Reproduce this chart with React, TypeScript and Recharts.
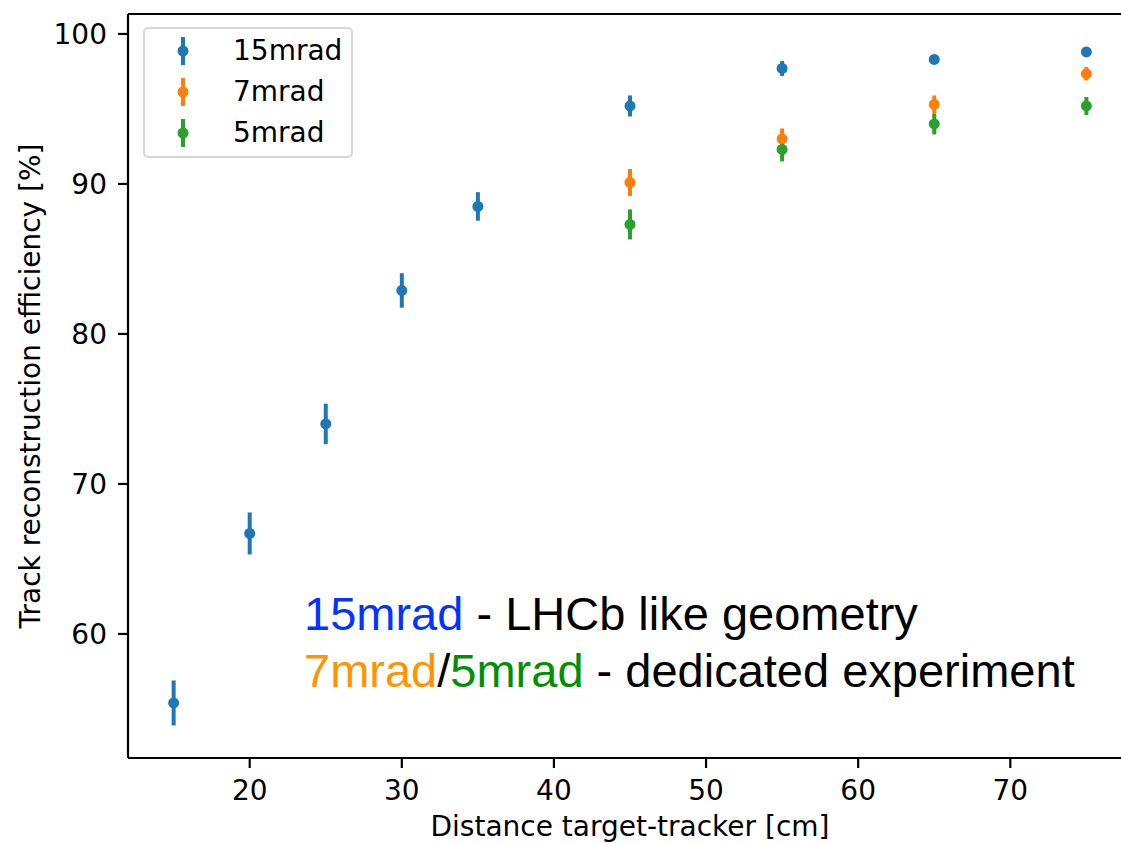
import { ScatterChart, Scatter, XAxis, YAxis, ErrorBar, Legend, ReferenceLine } from 'recharts';

const DIST_15 = [15, 20, 25, 30, 35, 45, 55, 65, 75];
const EFF_15 = [55.4, 66.7, 74.0, 82.9, 88.5, 95.2, 97.7, 98.3, 98.8];
const ERR_15 = [1.5, 1.4, 1.35, 1.15, 0.95, 0.7, 0.5, 0.3, 0.2];

const DIST_7 = [45, 55, 65, 75];
const EFF_7 = [90.1, 93.0, 95.3, 97.35];
const ERR_7 = [0.9, 0.7, 0.6, 0.45];

const DIST_5 = [45, 55, 65, 75];
const EFF_5 = [87.3, 92.3, 94.0, 95.2];
const ERR_5 = [1.0, 0.8, 0.7, 0.6];

const X_TICKS = [20, 30, 40, 50, 60, 70];
const Y_TICKS = [60, 70, 80, 90, 100];
const X_DOMAIN = [12, 78];
const Y_DOMAIN = [51.73, 101.33];

const toPoints = (xs: number[], ys: number[], errs: number[]) =>
  xs.map((x, i) => ({ x, y: ys[i], err: errs[i] }));

const series = [
  { name: '15mrad', color: '#1f77b4', data: toPoints(DIST_15, EFF_15, ERR_15) },
  { name: '7mrad', color: '#ff7f0e', data: toPoints(DIST_7, EFF_7, ERR_7) },
  { name: '5mrad', color: '#2ca02c', data: toPoints(DIST_5, EFF_5, ERR_5) },
];

const FONT = '"DejaVu Sans", sans-serif';
const ANNOT_FONT = '"Liberation Sans", Arial, sans-serif';
const FS = 28;

const LegendBox = () => (
  <div
    style={{
      width: 210,
      height: 131,
      boxSizing: 'border-box',
      border: '2px solid #d6d6d6',
      borderRadius: 5,
      background: 'rgba(255,255,255,0.8)',
      fontFamily: FONT,
      fontSize: FS,
      position: 'relative',
    }}
  >
    {series.map((s, i) => (
      <div key={s.name} style={{ position: 'absolute', left: 0, top: 7 + i * 41, height: 30, width: '100%' }}>
        <svg width={60} height={30} style={{ position: 'absolute', left: 8, top: 0 }}>
          <line x1={30} x2={30} y1={1} y2={29} stroke={s.color} strokeWidth={4} />
          <circle cx={30} cy={15} r={5.5} fill={s.color} />
        </svg>
        <span style={{ position: 'absolute', left: 88, top: 0, lineHeight: '30px', color: '#000' }}>{s.name}</span>
      </div>
    ))}
  </div>
);

const Dot = (props: any) => {
  const { cx, cy, fill } = props;
  return <circle cx={cx} cy={cy} r={5.5} fill={fill} />;
};

const App = () => {
  return (
    <div
      style={{
        position: 'fixed',
        left: 0,
        top: 0,
        width: 1121,
        height: 843,
        overflow: 'hidden',
        background: '#fff',
      }}
    >
      <ScatterChart width={1140} height={843} margin={{ top: 14, right: 8, bottom: 0, left: 0 }}>
        <XAxis
          type="number"
          dataKey="x"
          domain={X_DOMAIN}
          ticks={X_TICKS}
          allowDataOverflow
          height={85}
          tickSize={10}
          tickMargin={12}
          stroke="#000"
          strokeWidth={2.2}
          tick={{ fill: '#000', fontSize: FS, fontFamily: FONT }}
          label={{
            value: 'Distance target-tracker [cm]',
            position: 'insideBottom',
            offset: 7,
            style: { fill: '#000', fontSize: FS, fontFamily: FONT },
          }}
        />
        <YAxis
          type="number"
          dataKey="y"
          domain={Y_DOMAIN}
          ticks={Y_TICKS}
          allowDataOverflow
          width={128}
          tickSize={10}
          tickMargin={11}
          stroke="#000"
          strokeWidth={2.2}
          tick={{ fill: '#000', fontSize: FS, fontFamily: FONT }}
          label={{
            value: 'Track reconstruction efficiency [%]',
            angle: -90,
            position: 'insideLeft',
            offset: 30,
            style: { textAnchor: 'middle', fill: '#000', fontSize: FS, fontFamily: FONT },
          }}
        />
        <ReferenceLine y={Y_DOMAIN[1]} stroke="#000" strokeWidth={2.2} />
        <ReferenceLine x={X_DOMAIN[1]} stroke="#000" strokeWidth={2.2} />
        {series.map((s) => (
          <Scatter
            key={s.name}
            name={s.name}
            data={s.data}
            fill={s.color}
            shape={<Dot />}
            isAnimationActive={false}
          >
            <ErrorBar dataKey="err" direction="y" width={0} stroke={s.color} strokeWidth={4} />
          </Scatter>
        ))}
        <Legend
          layout="vertical"
          align="center"
          verticalAlign="middle"
          content={<LegendBox />}
          wrapperStyle={{ position: 'absolute', left: 143, top: 27, width: 'auto', height: 'auto' }}
        />
      </ScatterChart>
      <div
        style={{
          position: 'absolute',
          left: 304,
          top: 585,
          fontFamily: ANNOT_FONT,
          fontSize: 47,
          lineHeight: '57px',
          color: '#000',
          whiteSpace: 'nowrap',
        }}
      >
        <div>
          <span style={{ color: '#0433ff' }}>15mrad</span> - LHCb like geometry
        </div>
        <div>
          <span style={{ color: '#ff9300' }}>7mrad</span>/<span style={{ color: '#008f00' }}>5mrad</span> - dedicated
          experiment
        </div>
      </div>
    </div>
  );
};

export default App;
